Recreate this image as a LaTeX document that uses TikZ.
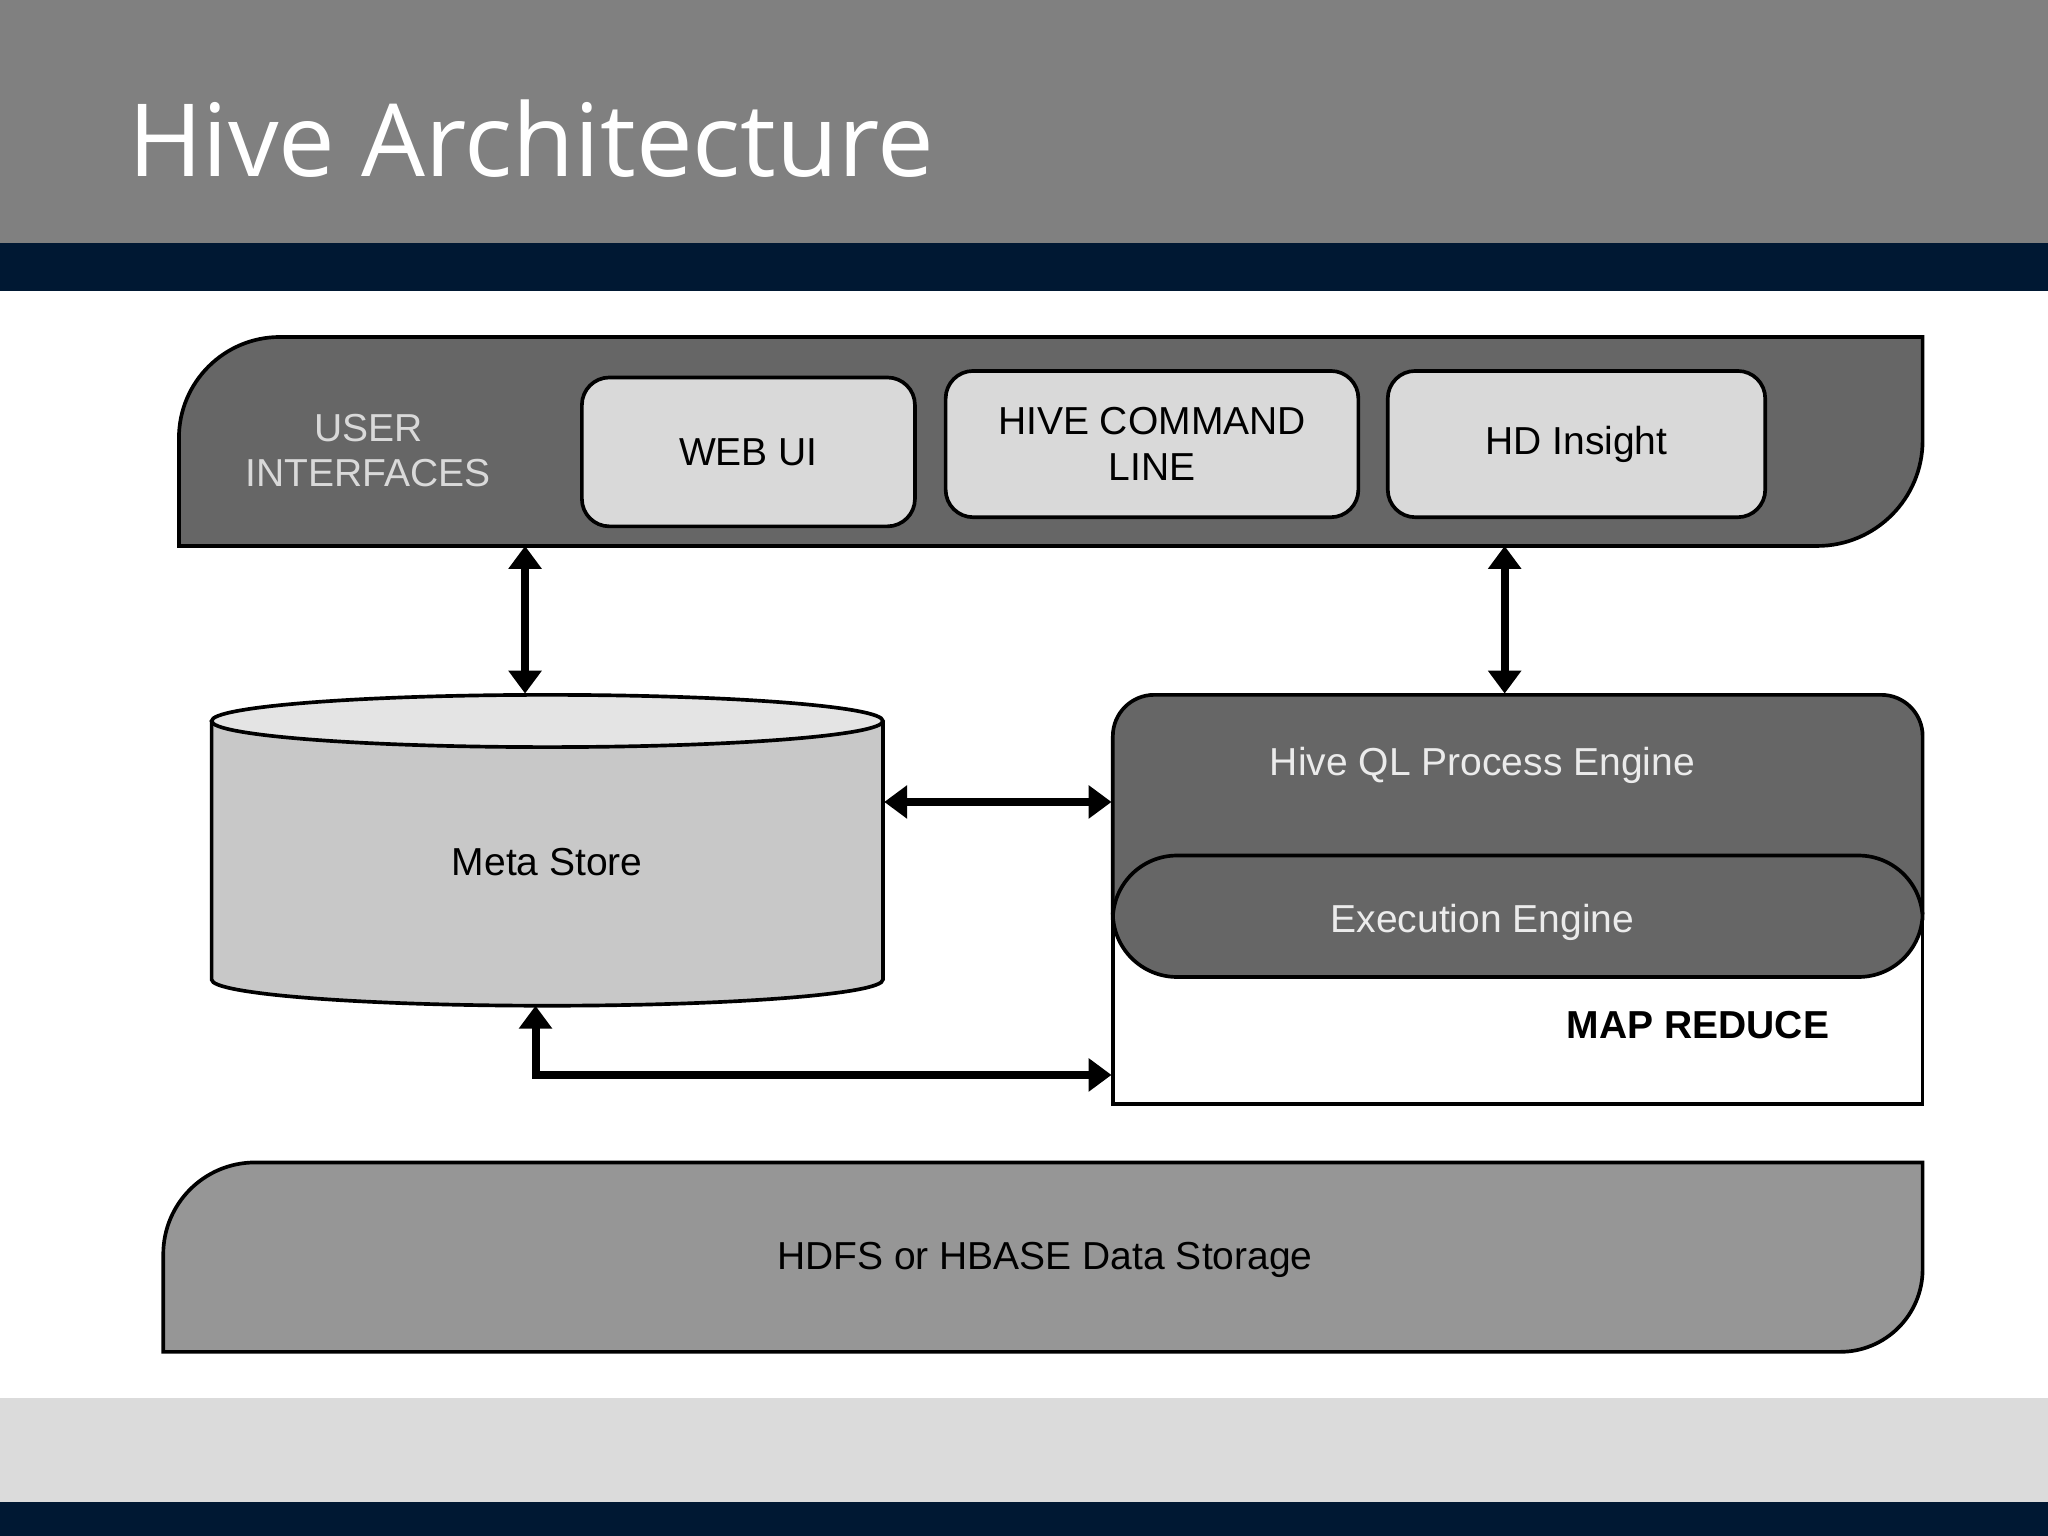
\documentclass[tikz,border=0pt]{standalone}
\usepackage{fontspec}
\setmainfont{Liberation Sans}
\newfontfamily\titlefont{Open Sans}
\usetikzlibrary{arrows.meta,shapes.geometric}
\definecolor{navy}{RGB}{0,24,51}
\definecolor{bandgray}{RGB}{128,128,128}
\definecolor{darkpanel}{RGB}{102,102,102}
\definecolor{lightbox}{RGB}{217,217,217}
\definecolor{storegray}{RGB}{200,200,200}
\definecolor{hdfsgray}{RGB}{150,150,150}
\begin{document}
\begin{tikzpicture}[
    x=0.02cm, y=-0.02cm,
    panel/.style={draw=black, line width=1.6pt},
    uibox/.style={draw=black, line width=1.6pt, fill=lightbox, rounded corners=12pt},
    lbl/.style={font=\fontsize{17}{20}\selectfont, align=center},
    dblarrow/.style={line width=3.5pt, {Triangle[width=14pt,length=10pt]}-{Triangle[width=14pt,length=10pt]}}
]
    \useasboundingbox (0,0) rectangle (1568,1176);
    % Slide frame
    \fill[bandgray] (0,0) rectangle (1568,186);
    \fill[navy] (0,186) rectangle (1568,223);
    \fill[lightbox!95!white] (0,1070) rectangle (1568,1150);
    \fill[navy] (0,1150) rectangle (1568,1176);
    \node[anchor=base west, text=white, font=\titlefont\fontsize{44}{50}\selectfont] (title) at (92,135) {Hive Architecture};

    % User interfaces
    \draw[panel, fill=darkpanel] (137,418) [rounded corners=44pt] -- (137,258) [sharp corners] -- (1472,258) [rounded corners=46pt] -- (1472,418) [sharp corners] -- cycle;
    \node[lbl, text=lightbox] (ui) at (282,345) {USER\\INTERFACES};
    \node[uibox, lbl, minimum width=255*0.02cm, minimum height=114*0.02cm] (webui) at (573,346) {WEB UI};
    \node[uibox, lbl, minimum width=316*0.02cm, minimum height=112*0.02cm] (cli) at (882,340) {HIVE COMMAND\\LINE};
    \node[uibox, lbl, minimum width=289*0.02cm, minimum height=112*0.02cm] (hdi) at (1207,340) {HD Insight};

    % Meta store
    \draw[panel, fill=storegray] (162,552) -- (162,750) arc[start angle=180, end angle=0, x radius=257, y radius=20] -- (676,552);
    \draw[panel, fill=lightbox!70!white] (419,552) ellipse[x radius=257, y radius=20];
    \node[lbl] (meta) at (419,660) {Meta Store};

    % Engines
    \draw[panel, fill=white] (852,700) rectangle (1472,845);
    \draw[panel, fill=darkpanel] (852,700) [rounded corners=18pt] -- (852,532) -- (1472,532) [sharp corners] -- (1472,700);
    \node[lbl, text=white!92!black] (hiveql) at (1135,586) {Hive QL Process Engine};
    \draw[panel, fill=darkpanel, rounded corners=28pt] (852,655) rectangle (1472,748);
    \node[lbl, text=white!92!black] (exec) at (1135,706) {Execution Engine};
    \node[lbl, font=\bfseries\fontsize{17}{20}\selectfont] (mapred) at (1300,785) {MAP REDUCE};

    % HDFS
    \draw[panel, fill=hdfsgray] (125,1035) [rounded corners=40pt] -- (125,890) [sharp corners] -- (1472,890) [rounded corners=36pt] -- (1472,1035) [sharp corners] -- cycle;
    \node[lbl] (hdfs) at (800,965) {HDFS or HBASE Data Storage};

    % Connectors
    \coordinate (uiL) at (402,418);
    \coordinate (metaT) at (402,531);
    \coordinate (uiR) at (1152,418);
    \coordinate (engT) at (1152,531);
    \coordinate (metaR) at (677,614);
    \coordinate (engL) at (851,614);
    \coordinate (metaB) at (410,770);
    \coordinate (mrL) at (851,823);
    \draw[dblarrow] (uiL) -- (metaT);
    \draw[dblarrow] (uiR) -- (engT);
    \draw[dblarrow] (metaR) -- (engL);
    \draw[dblarrow] (metaB) |- (mrL);
\end{tikzpicture}
\end{document}
